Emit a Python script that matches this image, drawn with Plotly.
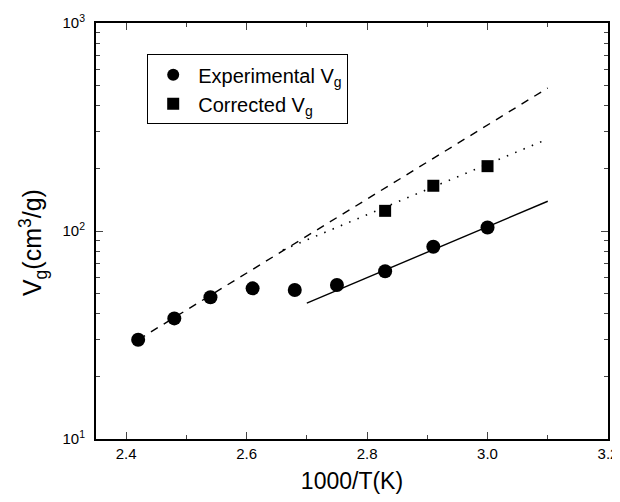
import plotly.graph_objects as go

# Data
exp_x = [2.42, 2.48, 2.54, 2.61, 2.68, 2.75, 2.83, 2.91, 3.00]
exp_y = [30, 38, 48, 53, 52, 55, 64, 84, 104]
cor_x = [2.83, 2.91, 3.00]
cor_y = [125, 165, 205]
dash_x = [2.42, 3.10]
dash_y = [30, 487]
dot_x = [2.66, 3.10]
dot_y = [81, 277]
solid_x = [2.70, 3.10]
solid_y = [45, 139]

fig = go.Figure()
fig.add_trace(go.Scatter(x=dash_x, y=dash_y, mode="lines",
                         line=dict(color="black", width=1.4, dash="8px,7px"), showlegend=False))
fig.add_trace(go.Scatter(x=dot_x, y=dot_y, mode="lines",
                         line=dict(color="black", width=1.6, dash="1.5px,7.5px"), showlegend=False))
fig.add_trace(go.Scatter(x=solid_x, y=solid_y, mode="lines",
                         line=dict(color="black", width=1.4), showlegend=False))
fig.add_trace(go.Scatter(x=exp_x, y=exp_y, mode="markers", name="Experimental V<sub>g</sub>",
                         marker=dict(symbol="circle", size=14, color="black")))
fig.add_trace(go.Scatter(x=cor_x, y=cor_y, mode="markers", name="Corrected V<sub>g</sub>",
                         marker=dict(symbol="square", size=12, color="black")))

font = "Liberation Sans"
fig.update_layout(
    width=612, height=486,
    margin=dict(l=88, r=12, t=15, b=55),
    paper_bgcolor="white", plot_bgcolor="white",
    font=dict(family=font, color="black", size=15),
    legend=dict(x=0.10, y=0.925, xanchor="left", yanchor="top",
                bordercolor="black", borderwidth=1, bgcolor="white",
                font=dict(size=20, family=font), itemsizing="constant",
                itemwidth=40, tracegroupgap=0),
    xaxis=dict(range=[2.35, 3.2], tickvals=[2.4, 2.6, 2.8, 3.0, 3.2],
               ticktext=["2.4", "2.6", "2.8", "3.0", "3.2"],
               ticks="inside", ticklen=7, tickwidth=1.2, mirror="allticks",
               showline=True, linecolor="black", linewidth=2, showgrid=False, zeroline=False,
               tickfont=dict(size=15), automargin=False, ticklabeloverflow="allow",
               minor=dict(dtick=0.1, ticks="inside", ticklen=4, tickwidth=1, showgrid=False),
               title=dict(text="1000/T(K)", font=dict(size=23), standoff=12)),
    yaxis=dict(type="log", range=[1, 3], tickvals=[10, 100, 1000],
               ticktext=["10<sup>1</sup>", "10<sup>2</sup>", "10<sup>3</sup>"],
               ticks="inside", ticklen=7, tickwidth=1.2, mirror="allticks",
               showline=True, linecolor="black", linewidth=2, showgrid=False, zeroline=False,
               tickfont=dict(size=15), automargin=False, ticklabelstandoff=6,
               minor=dict(dtick="D1", ticks="inside", ticklen=4, tickwidth=1, showgrid=False)),
    annotations=[dict(text="V<sub>g</sub>(cm<sup>3</sup>/g)", textangle=-90,
                      xref="paper", yref="paper", x=0, y=0.471, xanchor="center", yanchor="middle",
                      xshift=-63, showarrow=False, font=dict(size=25, family=font))],
)
fig.write_html("out.html")
